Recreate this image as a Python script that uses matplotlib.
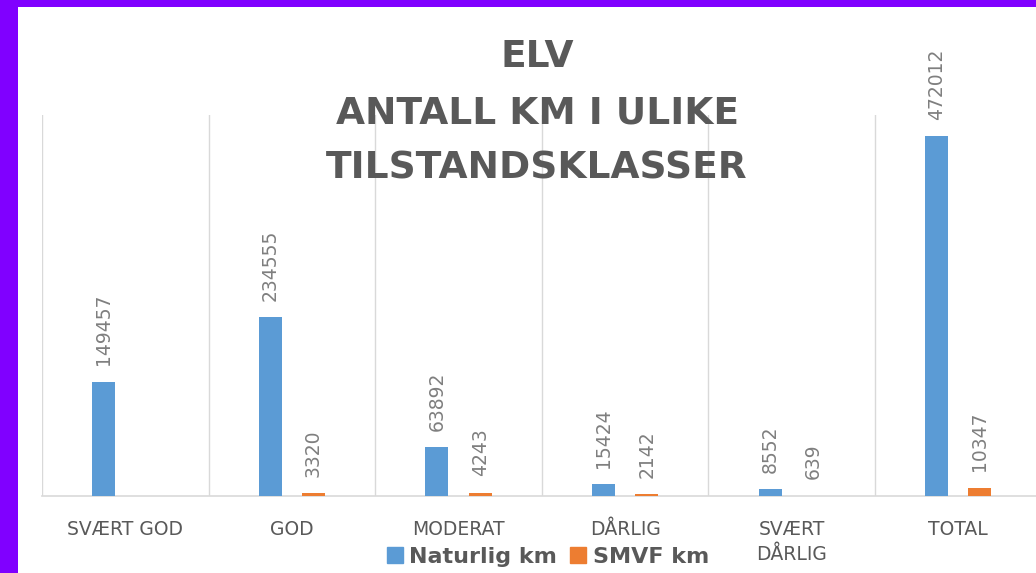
import matplotlib
matplotlib.use("Agg")
import matplotlib.pyplot as plt
from matplotlib.patches import Rectangle, Patch
import numpy as np

categories = ["SVÆRT GOD", "GOD", "MODERAT", "DÅRLIG", "SVÆRT\nDÅRLIG", "TOTAL"]
naturlig = [149457, 234555, 63892, 15424, 8552, 472012]
smvf = [None, 3320, 4243, 2142, 639, 10347]
series_names = ["Naturlig km", "SMVF km"]
title = "ELV\nANTALL KM I ULIKE\nTILSTANDSKLASSER"

BLUE = "#5B9BD5"
ORANGE = "#ED7D31"
GRAY = "#595959"
LBL = "#7F7F7F"

fig = plt.figure(figsize=(10.36, 5.73), dpi=100, facecolor="#8000FF")
fig.patches.append(Rectangle((18/1036, 0), 1 - 18/1036, 1 - 7/573,
                             transform=fig.transFigure, facecolor="white",
                             edgecolor="none", zorder=-5))

ax = fig.add_axes([42/1036, 77/573, 999.6/1036, 381/573])
ax.set_zorder(1)
ax.set_facecolor("none")
x = np.arange(len(categories))
w = 0.138
off = 0.13
nat_vals = np.array(naturlig, dtype=float)
smvf_vals = np.array([v if v is not None else 0 for v in smvf], dtype=float)
ax.bar(x - off, nat_vals, w, color=BLUE, zorder=3)
ax.bar(x + off, smvf_vals, w, color=ORANGE, zorder=3)

for xi, v in zip(x, naturlig):
    ax.annotate(f"{v}", (xi - off, v), xytext=(0, 12), textcoords="offset points",
                rotation=90, ha="center", va="bottom", color=LBL, fontsize=13.5)
for xi, v in zip(x, smvf):
    if v is None:
        continue
    ax.annotate(f"{v}", (xi + off, v), xytext=(0, 12), textcoords="offset points",
                rotation=90, ha="center", va="bottom", color=LBL, fontsize=13.5)

ax.set_xlim(-0.5, len(categories) - 0.5)
ax.set_ylim(0, 500000)
ax.set_yticks([])
ax.set_xticks(x)
ax.set_xticklabels(categories, color=GRAY, fontsize=13.5, linespacing=1.45)
ax.tick_params(axis="x", length=0, pad=17)
ax.set_xticks(np.arange(len(categories) + 1) - 0.5, minor=True)
ax.tick_params(axis="x", which="minor", length=0)
ax.grid(axis="x", which="minor", color="#D9D9D9", linewidth=1, zorder=0)
for s in ["top", "left", "right"]:
    ax.spines[s].set_visible(False)
ax.spines["bottom"].set_color("#D9D9D9")
ax.spines["bottom"].set_linewidth(1.2)
for lab in ax.get_xticklabels():
    lab.set_verticalalignment("top")

fig.text(537/1036, 1 - 113/573, title, ha="center", va="center",
         fontsize=27, fontweight="bold", color=GRAY, linespacing=1.7,
         zorder=5)

handles = [Patch(color=BLUE), Patch(color=ORANGE)]
leg = fig.legend(handles, series_names, loc="center", bbox_to_anchor=(548/1036, 1 - 557/573),
                 ncol=2, frameon=False, handlelength=0.7, handleheight=0.7, handletextpad=0.3,
                 columnspacing=0.6,
                 prop={"weight": "bold", "size": 16},
                 labelcolor=GRAY)
leg.set_zorder(5)

fig.savefig("out.png", dpi=100, facecolor=fig.get_facecolor())
